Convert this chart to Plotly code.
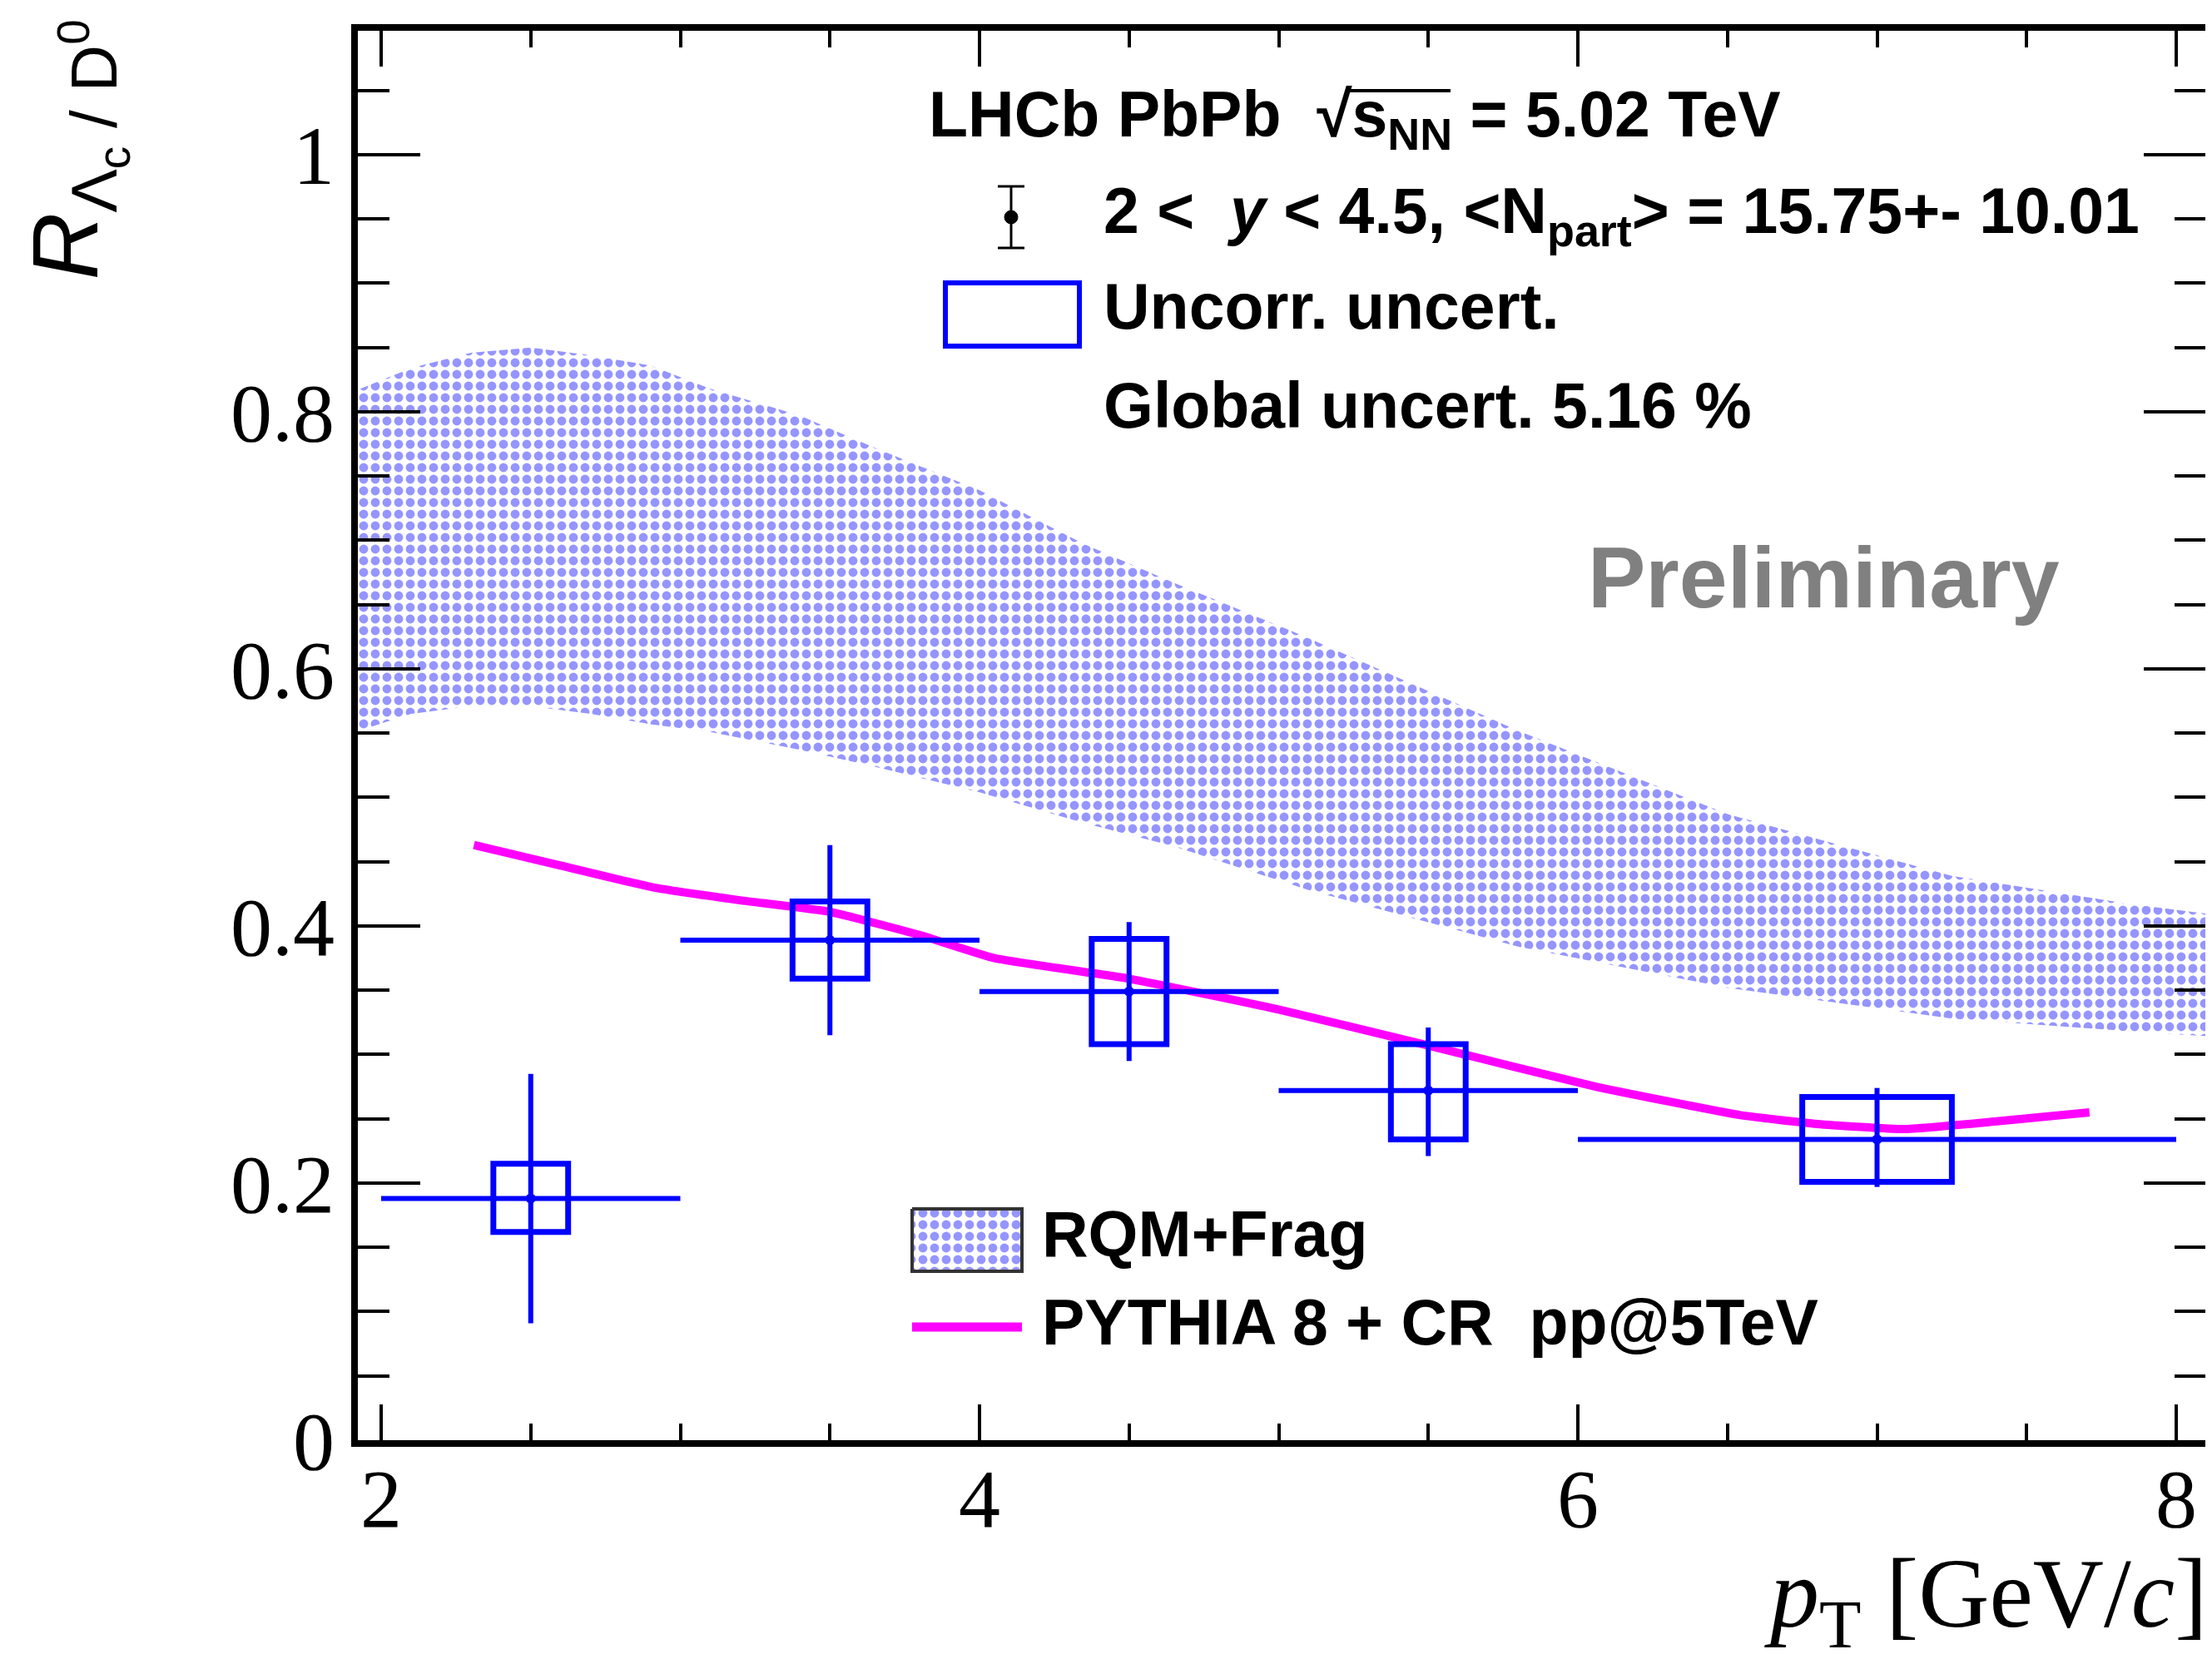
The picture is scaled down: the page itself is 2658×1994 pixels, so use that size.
import numpy as np
import plotly.graph_objects as go

# ---------------- data ----------------
pt_center = [2.5, 3.5, 4.5, 5.5, 7.0]
pt_low = [2.0, 3.0, 4.0, 5.0, 6.0]
pt_high = [3.0, 4.0, 5.0, 6.0, 8.0]
ratio = [0.188, 0.389, 0.349, 0.272, 0.234]
stat_up = [0.285, 0.463, 0.403, 0.321, 0.274]
stat_down = [0.091, 0.315, 0.295, 0.221, 0.197]
syst_up = [0.215, 0.419, 0.390, 0.308, 0.267]
syst_down = [0.162, 0.359, 0.308, 0.234, 0.201]

pythia_pt = [2.31, 2.6, 2.91, 3.2, 3.5, 3.8, 4.05, 4.5, 5.0, 5.5, 6.06, 6.54, 6.8, 7.09, 7.4, 7.71]
pythia_ratio = [0.463, 0.447, 0.430, 0.420, 0.411, 0.393, 0.375, 0.359, 0.335, 0.307,
                0.275, 0.253, 0.246, 0.242, 0.248, 0.255]

rqm_pt = [1.9, 2.1, 2.3, 2.5, 2.7, 2.9, 3.1, 3.4, 3.65, 4.0, 4.35, 4.65, 5.1, 5.8, 6.5, 7.25, 7.85, 8.12]
rqm_upper = [0.815, 0.834, 0.846, 0.850, 0.844, 0.836, 0.818, 0.797, 0.772, 0.739, 0.697,
             0.667, 0.624, 0.552, 0.487, 0.439, 0.417, 0.409]
rqm_lower = [0.550, 0.565, 0.571, 0.571, 0.565, 0.557, 0.551, 0.537, 0.524, 0.504, 0.480,
             0.462, 0.428, 0.384, 0.352, 0.328, 0.318, 0.314]

x_tickvals = [2, 4, 6, 8]
x_ticktext = ["2", "4", "6", "8"]
y_tickvals = [0, 0.2, 0.4, 0.6, 0.8, 1.0]
y_ticktext = ["0", "0.2", "0.4", "0.6", "0.8", "1"]

# ---------------- style ----------------
W, H = 2658, 1994
L, R, T, B = 422, 2643, 29, 1723  # plot frame in pixels
X_RANGE = [1.9221, 8.1001]
Y_RANGE = [0, 1.0964]
BLUE = "#0000ff"
PATTERN_BLUE = "#2c2cff"
SANS = "Liberation Sans, Arial, sans-serif"
SERIF = "Liberation Serif, Times New Roman, serif"
TXT = 77
PAT = dict(shape=".", fgcolor=PATTERN_BLUE, size=14, solidity=0.47, fillmode="overlay")

fig = go.Figure()

# RQM+Frag band
fig.add_trace(go.Scatter(
    x=rqm_pt + rqm_pt[::-1], y=rqm_upper + rqm_lower[::-1],
    fill="toself", mode="lines", line=dict(width=0, color="rgba(0,0,0,0)"),
    fillcolor="rgba(0,0,0,0)",
    fillpattern=dict(PAT, bgcolor="rgba(0,0,0,0)"),
    showlegend=False, hoverinfo="skip"))

# PYTHIA line
fig.add_trace(go.Scatter(x=pythia_pt, y=pythia_ratio, mode="lines",
                         line=dict(color="#ff00ff", width=10, shape="spline", smoothing=0.4),
                         showlegend=False))

# Data points with stat errors
fig.add_trace(go.Scatter(
    x=pt_center, y=ratio, mode="markers",
    marker=dict(color=BLUE, size=12),
    error_y=dict(type="data", symmetric=False,
                 array=[u - r for u, r in zip(stat_up, ratio)],
                 arrayminus=[r - d for r, d in zip(ratio, stat_down)],
                 color=BLUE, thickness=6, width=0),
    error_x=dict(type="data", symmetric=False,
                 array=[h - c for h, c in zip(pt_high, pt_center)],
                 arrayminus=[c - l for c, l in zip(pt_center, pt_low)],
                 color=BLUE, thickness=6, width=0),
    showlegend=False))

shapes = []
# systematic boxes (half-width = 1/8 of bin width)
for c, lo, hi, su, sd in zip(pt_center, pt_low, pt_high, syst_up, syst_down):
    hw = (hi - lo) / 8.0
    shapes.append(dict(type="rect", xref="x", yref="y", x0=c - hw, x1=c + hw, y0=sd, y1=su,
                       line=dict(color=BLUE, width=7), fillcolor="rgba(0,0,0,0)"))

# ------------- legend / decorations in pixel space (overlay axes) -------------
bx0, bx1, by0, by1 = 1088, 1220, 1445, 1520
fig.add_trace(go.Scatter(
    x=[bx0, bx1, bx1, bx0, bx0], y=[by0, by0, by1, by1, by0], xaxis="x2", yaxis="y2",
    fill="toself", mode="lines", line=dict(color="#333333", width=4),
    fillcolor="rgba(0,0,0,0)",
    fillpattern=dict(PAT, bgcolor="white"),
    showlegend=False, hoverinfo="skip"))

def pl(x0, y0, x1, y1, color, width):
    shapes.append(dict(type="line", xref="x2", yref="y2", x0=x0, y0=y0, x1=x1, y1=y1,
                       line=dict(color=color, width=width)))

# marker with error bar legend glyph
pl(1207, 216, 1207, 290, "black", 3)
pl(1191, 216, 1223, 216, "black", 3)
pl(1191, 290, 1223, 290, "black", 3)
shapes.append(dict(type="circle", xref="x2", yref="y2", x0=1199, x1=1215, y0=245, y1=261,
                   fillcolor="black", line=dict(color="black", width=1)))
# uncorr box glyph
shapes.append(dict(type="rect", xref="x2", yref="y2", x0=1128, x1=1289, y0=332, y1=408,
                   line=dict(color=BLUE, width=6), fillcolor="rgba(0,0,0,0)"))
# pythia legend line
pl(1088, 1587, 1220, 1587, "#ff00ff", 11)
# overline of the square root
pl(1612, 101, 1735, 101, "black", 4)

annotations = []

def txt(x, y, s, size=TXT, family=SANS, color="black", xanchor="left", yanchor="middle", angle=0):
    annotations.append(dict(x=x, y=y, xref="x2", yref="y2", text=s, showarrow=False,
                            xanchor=xanchor, yanchor=yanchor, textangle=angle,
                            font=dict(family=family, size=size, color=color)))

def ptxt(X, Y, s, size, family, xanchor="left", yanchor="middle", angle=0):
    annotations.append(dict(x=(X - L) / (R - L), y=(B - Y) / (B - T), xref="paper", yref="paper",
                            text=s, showarrow=False, xanchor=xanchor, yanchor=yanchor,
                            textangle=angle, font=dict(family=family, size=size, color="black")))

txt(1106, 134, "<b>LHCb PbPb  √s<sub>NN</sub> = 5.02 TeV</b>")
txt(1316, 250, "<b>2 &lt;  <i>y</i> &lt; 4.5, &lt;N<sub>part</sub>&gt; = 15.75+- 10.01</b>")
txt(1316, 360, "<b>Uncorr. uncert.</b>")
txt(1316, 479, "<b>Global uncert. 5.16 %</b>")
txt(2183, 686, "<b>Preliminary</b>", size=104, color="#808080", xanchor="center")
txt(1242, 1475, "<b>RQM+Frag</b>")
txt(1242, 1581, "<b>PYTHIA 8 + CR  pp@5TeV</b>")

# axis titles
ptxt(2647, 1916, "<i>p</i><sub>T</sub> [GeV/<i>c</i>]", 118, SERIF, xanchor="right")
ptxt(84, 14, "<i>R</i><sub>Λ<sub>c</sub> / D<sup>0</sup></sub>", 112, SANS,
     xanchor="center", yanchor="top", angle=-90)

fig.update_layout(
    width=W, height=H,
    margin=dict(l=L, r=W - R, t=T, b=H - B, pad=0),
    paper_bgcolor="white", plot_bgcolor="white",
    shapes=shapes, annotations=annotations,
    xaxis=dict(range=X_RANGE, showgrid=False, zeroline=False, automargin=False,
               showline=True, linecolor="black", linewidth=8, mirror="ticks",
               ticks="inside", ticklen=43, tickwidth=4, tickcolor="black",
               tickvals=x_tickvals, ticktext=x_ticktext, ticklabelstandoff=-24,
               tickfont=dict(family=SERIF, size=100, color="black"),
               minor=dict(ticks="inside", ticklen=20, tickwidth=4, tickcolor="black",
                          tickmode="linear", tick0=0, dtick=0.5, showgrid=False)),
    yaxis=dict(range=Y_RANGE, showgrid=False, zeroline=False, automargin=False,
               showline=True, linecolor="black", linewidth=8, mirror="ticks",
               ticks="inside", ticklen=75, tickwidth=4, tickcolor="black",
               tickvals=y_tickvals, ticktext=y_ticktext,
               tickfont=dict(family=SERIF, size=100, color="black"),
               minor=dict(ticks="inside", ticklen=38, tickwidth=4, tickcolor="black",
                          tickmode="linear", tick0=0, dtick=0.05, showgrid=False)),
    xaxis2=dict(overlaying="x", anchor="y2", range=[L, R], visible=False, fixedrange=True),
    yaxis2=dict(overlaying="y", anchor="x2", range=[B, T], visible=False, fixedrange=True),
    showlegend=False,
)

fig.write_html("out.html")
